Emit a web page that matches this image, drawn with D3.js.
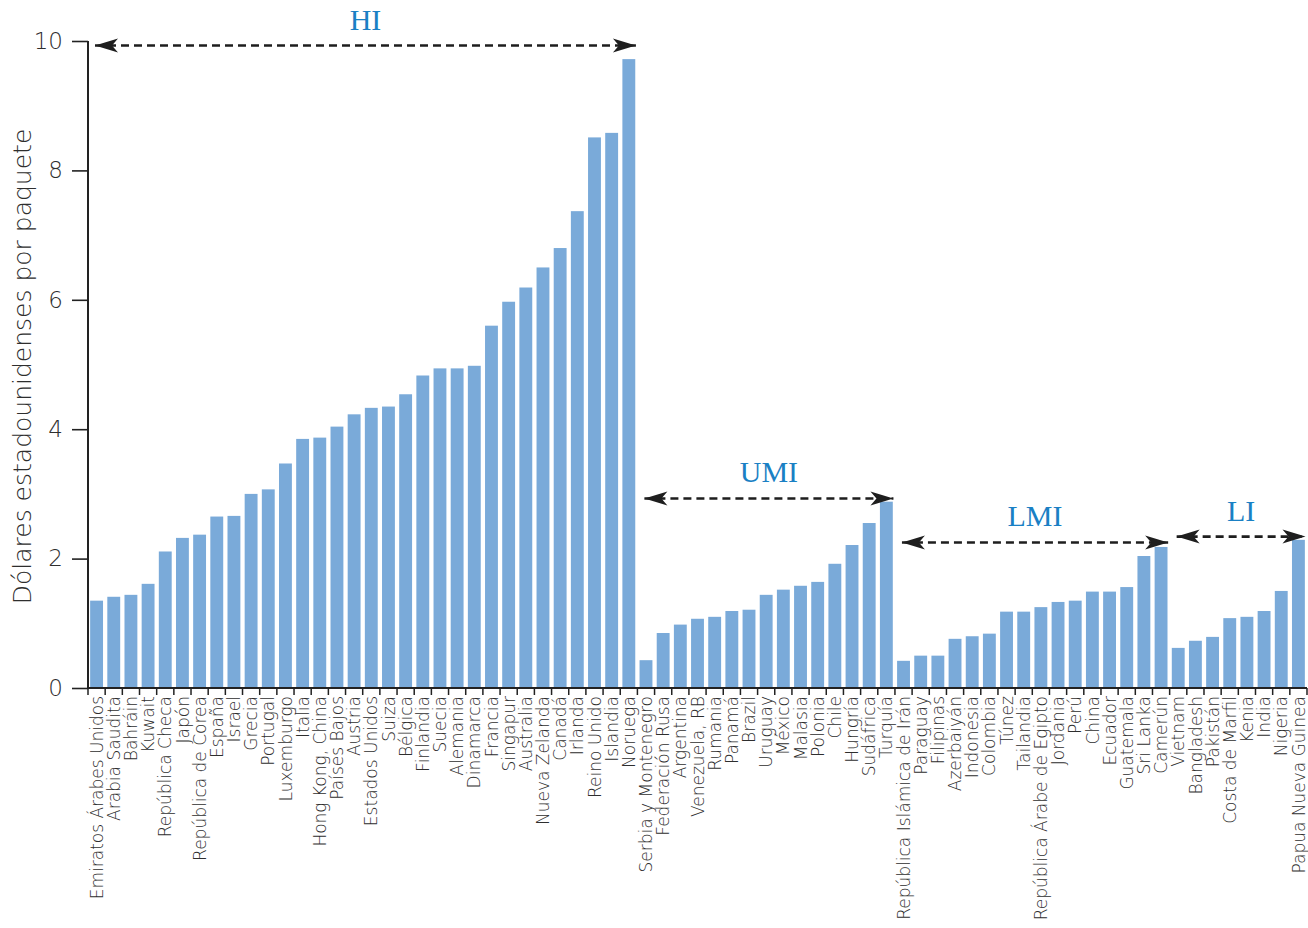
<!DOCTYPE html>
<html>
<head>
<meta charset="utf-8">
<script src="https://cdn.jsdelivr.net/npm/d3@7"></script>
<style>
  html, body { margin: 0; padding: 0; background: #fff; }
  svg { display: block; }
</style>
</head>
<body>
<svg id="chart" width="1308" height="928"></svg>
<script>
const categories = [
  "Emiratos Árabes Unidos","Arabia Saudita","Bahráin","Kuwait","República Checa","Japón","República de Corea","España","Israel","Grecia","Portugal","Luxemburgo","Italia","Hong Kong, China","Países Bajos","Austria","Estados Unidos","Suiza","Bélgica","Finlandia","Suecia","Alemania","Dinamarca","Francia","Singapur","Australia","Nueva Zelanda","Canadá","Irlanda","Reino Unido","Islandia","Noruega",
  "Serbia y Montenegro","Federación Rusa","Argentina","Venezuela, RB","Rumania","Panamá","Brazil","Uruguay","México","Malasia","Polonia","Chile","Hungría","Sudáfrica","Turquía",
  "República Islámica de Irán","Paraguay","Filipinas","Azerbaiyán","Indonesia","Colombia","Túnez","Tailandia","República Árabe de Egipto","Jordania","Perú","China","Ecuador","Guatemala","Sri Lanka","Camerún",
  "Vietnam","Bangladesh","Pakistán","Costa de Marfil","Kenia","India","Nigeria","Papua Nueva Guinea"
];
const values = [
  1.35,1.41,1.44,1.61,2.11,2.32,2.37,2.65,2.66,3.00,3.07,3.47,3.85,3.87,4.04,4.23,4.33,4.35,4.54,4.83,4.94,4.94,4.98,5.60,5.97,6.19,6.50,6.80,7.37,8.51,8.58,9.72,
  0.43,0.85,0.98,1.07,1.10,1.19,1.21,1.44,1.52,1.58,1.64,1.92,2.21,2.55,2.88,
  0.42,0.50,0.50,0.76,0.80,0.84,1.18,1.18,1.25,1.33,1.35,1.49,1.49,1.56,2.04,2.18,
  0.62,0.73,0.79,1.08,1.10,1.19,1.50,2.29
];
const yTicks = [0, 2, 4, 6, 8, 10];
const groupNames = ["HI", "UMI", "LMI", "LI"];
const groupFirst = ["Emiratos Árabes Unidos", "Serbia y Montenegro", "República Islámica de Irán", "Vietnam"];
const groupLast = ["Noruega", "Turquía", "Camerún", "Papua Nueva Guinea"];
const groupArrowLevel = [9.93, 2.93, 2.25, 2.34];
const yTitle = "Dólares estadounidenses por paquete";

(function () {
const svg = d3.select("#chart");
const mLeft = 88, mRight = 1307, mTop = 41, mBottom = 688;

const x = d3.scaleBand().domain(categories).range([mLeft, mRight]).paddingInner(0.25).paddingOuter(0.125);
const y = d3.scaleLinear().domain([0, 10]).range([mBottom, mTop]);
const step = x.step();
const bandStart = c => x(c) - step * 0.125;
const bandEnd = c => x(c) + x.bandwidth() + step * 0.125;

const sansFont = "'DejaVu Sans', 'Open Sans', sans-serif";
const textColor = "#2e2e2e";

// bars
svg.append("g").selectAll("rect").data(categories).join("rect")
  .attr("x", d => x(d))
  .attr("y", (d, i) => y(values[i]))
  .attr("width", x.bandwidth())
  .attr("height", (d, i) => y(0) - y(values[i]))
  .attr("fill", "#7aaad9");

// y axis
const yAxis = svg.append("g").attr("transform", `translate(${mLeft},0)`)
  .call(d3.axisLeft(y).tickValues(yTicks).tickSize(16).tickPadding(9).tickFormat(d3.format("d")));
yAxis.select(".domain").attr("stroke", "#222").attr("stroke-width", 2).attr("d", `M0,${mTop}V${mBottom}`);
yAxis.selectAll(".tick line").attr("stroke", "#222").attr("stroke-width", 1.6);
yAxis.selectAll(".tick text").attr("font-family", sansFont).attr("font-weight", 200)
  .attr("font-size", 23).attr("fill", textColor);

// x axis labels
const xAxis = svg.append("g").attr("transform", `translate(0,${mBottom})`)
  .call(d3.axisBottom(x).tickSize(0).tickPadding(0));
xAxis.select(".domain").remove();
xAxis.selectAll(".tick text")
  .attr("transform", "rotate(-90)")
  .attr("x", -8).attr("y", 0).attr("dy", "0.36em")
  .style("text-anchor", "end")
  .attr("font-family", sansFont).attr("font-weight", 200)
  .attr("font-size", 17).attr("fill", textColor);

// x axis line and boundary ticks
const boundaries = categories.map(c => bandStart(c)).concat([bandEnd(categories[categories.length - 1])]);
svg.append("line").attr("x1", mLeft).attr("x2", mRight).attr("y1", mBottom).attr("y2", mBottom)
  .attr("stroke", "#222").attr("stroke-width", 2);
svg.append("g").selectAll("line").data(boundaries).join("line")
  .attr("x1", d => d).attr("x2", d => d).attr("y1", mBottom).attr("y2", mBottom + 7)
  .attr("stroke", "#222").attr("stroke-width", 1.5);

// y title
svg.append("text")
  .attr("transform", `translate(31,${(mTop + mBottom) / 2 + 2}) rotate(-90)`)
  .attr("text-anchor", "middle")
  .attr("font-family", sansFont).attr("font-weight", 200)
  .attr("font-size", 25).attr("fill", textColor)
  .text(yTitle);

// arrowheads
const defs = svg.append("defs");
defs.append("marker").attr("id", "ahead").attr("viewBox", "-24 -8 26 16")
  .attr("refX", 0).attr("refY", 0).attr("markerWidth", 26).attr("markerHeight", 16)
  .attr("markerUnits", "userSpaceOnUse").attr("orient", "auto-start-reverse")
  .append("path").attr("d", "M0,0 L-23,-7 L-17,0 L-23,7 Z").attr("fill", "#1e1e1e");

groupNames.forEach((g, i) => {
  const x1 = bandStart(groupFirst[i]) + 5;
  const x2 = bandEnd(groupLast[i]) + 0.5;
  const yy = y(groupArrowLevel[i]);
  svg.append("line")
    .attr("x1", x1 + 2).attr("x2", x2 - 2).attr("y1", yy).attr("y2", yy)
    .attr("stroke", "#1e1e1e").attr("stroke-width", 2.6)
    .attr("stroke-dasharray", "8,5")
    .attr("marker-start", "url(#ahead)").attr("marker-end", "url(#ahead)");
  svg.append("text")
    .attr("x", (x1 + x2) / 2).attr("y", yy - 16)
    .attr("text-anchor", "middle")
    .attr("font-family", "'Liberation Serif', 'Times New Roman', serif")
    .attr("font-size", 30).attr("fill", "#1a80c4")
    .text(g);
});
})();
</script>
</body>
</html>
